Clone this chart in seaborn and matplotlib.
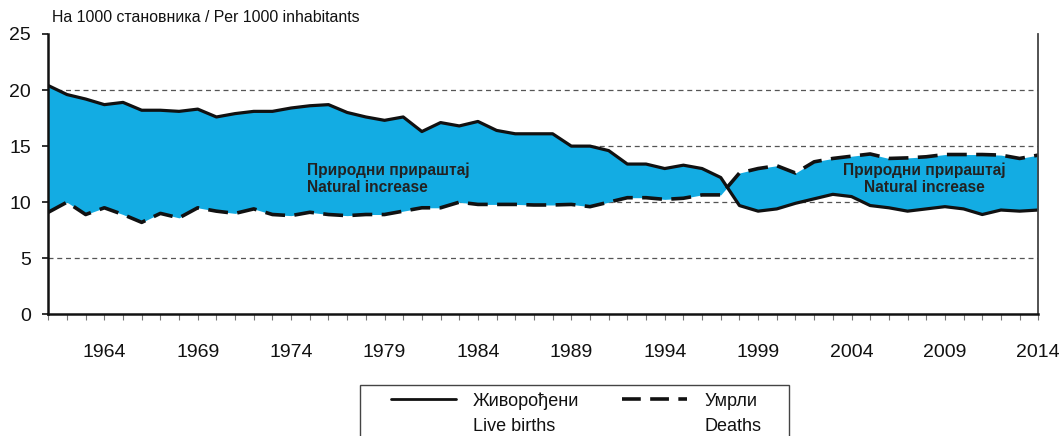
import numpy as np
import pandas as pd
import matplotlib
matplotlib.use("Agg")
import matplotlib.pyplot as plt
import seaborn as sns
from matplotlib.lines import Line2D
from matplotlib.patches import Rectangle

years = list(range(1961, 2015))
live_births = [20.4, 19.6, 19.2, 18.7, 18.9, 18.2, 18.2, 18.1, 18.3, 17.6,
               17.9, 18.1, 18.1, 18.4, 18.6, 18.7, 18.0, 17.6, 17.3, 17.6,
               16.3, 17.1, 16.8, 17.2, 16.4, 16.1, 16.1, 16.1, 15.0, 15.0,
               14.6, 13.4, 13.4, 13.0, 13.3, 13.0, 12.2, 9.7, 9.2, 9.4,
               9.9, 10.3, 10.7, 10.5, 9.7, 9.5, 9.2, 9.4, 9.6, 9.4,
               8.9, 9.3, 9.2, 9.3]
deaths = [9.1, 10.0, 8.9, 9.5, 8.9, 8.2, 9.0, 8.6, 9.5, 9.2,
          9.0, 9.4, 8.9, 8.8, 9.1, 8.9, 8.8, 8.9, 8.9, 9.2,
          9.5, 9.5, 10.0, 9.8, 9.8, 9.8, 9.75, 9.75, 9.8, 9.6,
          10.0, 10.4, 10.4, 10.25, 10.35, 10.65, 10.65, 12.6, 13.0, 13.25,
          12.6, 13.6, 13.9, 14.1, 14.3, 13.9, 13.95, 14.05, 14.25, 14.25,
          14.25, 14.2, 13.9, 14.2]
label_years = [1964, 1969, 1974, 1979, 1984, 1989, 1994, 1999, 2004, 2009, 2014]
y_ticks = [0, 5, 10, 15, 20, 25]
unit_label = "На 1000 становника / Per 1000 inhabitants"
fill_label = "Природни прираштај\nNatural increase"
series_names = ["Живорођени", "Умрли"]
series_names_en = ["Live births", "Deaths"]

sns.set_theme(style="white")
plt.rcParams["font.family"] = ["Liberation Sans", "DejaVu Sans"]

df = pd.DataFrame({"year": years, "births": live_births, "deaths": deaths})

W, H = 1063, 436
fig = plt.figure(figsize=(W / 100, H / 100), dpi=100)
ax_l, ax_r, ax_t, ax_b = 48.3, 1038.3, 34.0, 314.3
ax = fig.add_axes([ax_l / W, 1 - ax_b / H, (ax_r - ax_l) / W, (ax_b - ax_t) / H])

fill_color = "#13ACE3"
ax.fill_between(df["year"], df["births"], df["deaths"], color=fill_color, lw=0, zorder=2)

sns.lineplot(data=df, x="year", y="births", ax=ax, color="#111111", lw=2.3,
             zorder=4, legend=False)
sns.lineplot(data=df, x="year", y="deaths", ax=ax, color="#111111", lw=2.6,
             dashes=False, zorder=4, legend=False)
ax.lines[-1].set_dashes((5.5, 2.6))

# grid
for v in [5, 10, 15, 20]:
    ax.axhline(v, color="#555555", lw=0.9, ls=(0, (4, 3)), zorder=1)

ax.set_xlim(years[0], years[-1])
ax.set_ylim(0, 25)
ax.set_xlabel("")
ax.set_ylabel("")

ax.set_xticks(years)
ax.set_xticklabels([str(y) if y in label_years else "" for y in years])
ax.set_yticks(y_ticks)
ax.set_yticklabels([str(v) for v in y_ticks])
ax.tick_params(axis="x", which="major", length=4.5, width=0.8, color="#777777",
               direction="out", pad=17, labelsize=14, labelcolor="#111111", bottom=True)
ax.tick_params(axis="y", length=4.5, width=1.2, color="#111111", direction="out",
               pad=8, labelsize=14, labelcolor="#111111", left=True)

ax.spines["top"].set_visible(False)
ax.spines["left"].set_color("#111111")
ax.spines["left"].set_linewidth(1.8)
ax.spines["bottom"].set_color("#111111")
ax.spines["bottom"].set_linewidth(1.8)
ax.spines["right"].set_color("#444444")
ax.spines["right"].set_linewidth(1.3)
for s in ["left", "bottom", "right"]:
    ax.spines[s].set_zorder(5)

# annotations
ax.text((307 - ax_l) / (ax_r - ax_l), (ax_b - 178.8) / (ax_b - ax_t), fill_label,
        transform=ax.transAxes, ha="left", va="center", multialignment="left",
        fontsize=11.2, fontweight="bold", color="#222222", linespacing=1.15, zorder=6)
ax.text((924.4 - ax_l) / (ax_r - ax_l), (ax_b - 178.8) / (ax_b - ax_t), fill_label,
        transform=ax.transAxes, ha="center", va="center", multialignment="center",
        fontsize=11.2, fontweight="bold", color="#222222", linespacing=1.15, zorder=6)

fig.text(52 / W, 1 - 18 / H, unit_label, ha="left", va="center", fontsize=11.4,
         color="#111111")

# legend frame
fig.patches.append(Rectangle((360 / W, -0.05), (789 - 360) / W, (1 - 385 / H) + 0.05,
                             transform=fig.transFigure, fill=False,
                             edgecolor="#444444", lw=1.0))
h1 = Line2D([], [], color="#111111", lw=2.0)
h2 = Line2D([], [], color="#111111", lw=2.6, dashes=(5.2, 2.6))
blank = Line2D([], [], color="none")
fig.legend([h1, blank, h2, blank],
           [series_names[0], series_names_en[0], series_names[1], series_names_en[1]],
           loc="upper left", bbox_to_anchor=(391 / W, 1 - 392 / H), ncol=2,
           frameon=False, fontsize=13, handlelength=3.6, handletextpad=0.95,
           columnspacing=2.35, borderpad=0, borderaxespad=0, labelspacing=0.45,
           labelcolor="#111111")

fig.savefig("out.png", dpi=100)
